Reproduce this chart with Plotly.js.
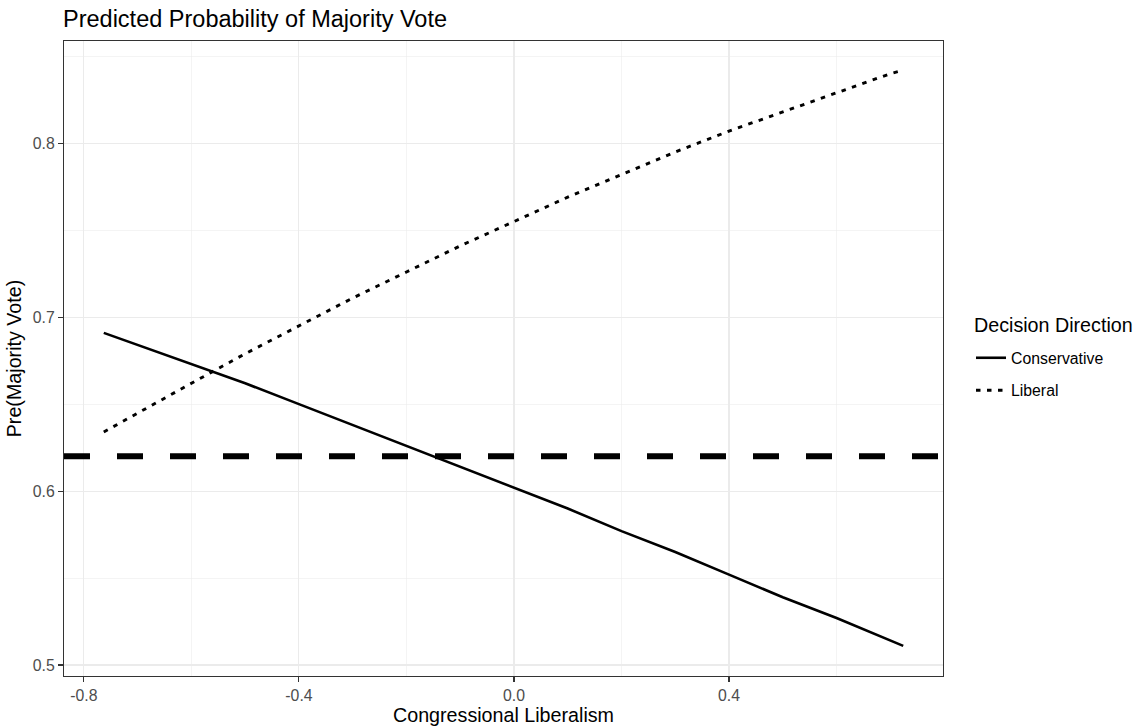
<!DOCTYPE html>
<html>
<head>
<meta charset="utf-8">
<script src="https://cdn.plot.ly/plotly-3.0.1.min.js"></script>
<style>html,body{margin:0;padding:0;background:#fff;}#chart{width:1140px;height:726px;}</style>
</head>
<body>
<div id="chart"></div>
<script>
// Congressional liberalism values (x)
const liberalism = [-0.763, -0.7, -0.6, -0.5, -0.4, -0.3, -0.2, -0.1, 0.0, 0.1, 0.2, 0.3, 0.4, 0.5, 0.6, 0.7, 0.724];
// Predicted probability, conservative decisions
const conservativeProb = [0.691, 0.684, 0.673, 0.662, 0.650, 0.638, 0.626, 0.614, 0.602, 0.590, 0.577, 0.565, 0.552, 0.539, 0.527, 0.514, 0.511];
// Predicted probability, liberal decisions
const liberalProb = [0.634, 0.645, 0.662, 0.679, 0.695, 0.711, 0.726, 0.741, 0.755, 0.769, 0.782, 0.795, 0.807, 0.818, 0.829, 0.840, 0.842];
// Reference (baseline) probability
const baseline = 0.62;
const seriesNames = ["Conservative", "Liberal"];
// Tick labels
const xTickVals = [-0.8, -0.4, 0.0, 0.4];
const xTickText = ["-0.8", "-0.4", "0.0", "0.4"];
const yTickVals = [0.5, 0.6, 0.7, 0.8];
const yTickText = ["0.5", "0.6", "0.7", "0.8"];

const FONT = "Liberation Sans, Arial, sans-serif";
const W = 1140, H = 726;

const traces = [
  {x: liberalism, y: conservativeProb, name: seriesNames[0], type: "scatter", mode: "lines",
   line: {color: "#000000", width: 2.6, dash: "solid"}, legendgroup: "a"},
  {x: liberalism, y: liberalProb, name: seriesNames[1], type: "scatter", mode: "lines",
   line: {color: "#000000", width: 2.9, dash: "4.5px,6.5px"}, legendgroup: "b"}
];

const layout = {
  width: W, height: H,
  margin: {l: 64, r: 197, t: 41, b: 50, pad: 0},
  paper_bgcolor: "#ffffff", plot_bgcolor: "#ffffff",
  font: {family: FONT, color: "#000000"},
  title: {text: "Predicted Probability of Majority Vote", x: 63 / W, xanchor: "left", xref: "container",
          y: 1 - 19 / H, yanchor: "middle", yref: "container",
          font: {size: 23.5, family: FONT, color: "#000000"}},
  xaxis: {
    range: [-0.837, 0.798], tickmode: "array", tickvals: xTickVals, ticktext: xTickText,
    showgrid: true, gridcolor: "#EBEBEB", gridwidth: 1.1,
    minor: {tick0: -0.8, dtick: 0.2, showgrid: true, gridcolor: "#EBEBEB", gridwidth: 0.55, ticks: ""},
    zeroline: false, showline: true, mirror: true, linecolor: "#333333", linewidth: 1.1,
    ticks: "outside", ticklen: 5, tickcolor: "#333333", tickwidth: 1.1,
    tickfont: {size: 15.8, color: "#4D4D4D", family: FONT},
    title: {text: "Congressional Liberalism", font: {size: 19.7, color: "#000000", family: FONT}, standoff: 3}
  },
  yaxis: {
    range: [0.4937, 0.8588], tickmode: "array", tickvals: yTickVals, ticktext: yTickText,
    showgrid: true, gridcolor: "#EBEBEB", gridwidth: 1.1,
    minor: {tick0: 0.5, dtick: 0.05, showgrid: true, gridcolor: "#EBEBEB", gridwidth: 0.55, ticks: ""},
    zeroline: false, showline: true, mirror: true, linecolor: "#333333", linewidth: 1.1,
    ticks: "outside", ticklen: 5, tickcolor: "#333333", tickwidth: 1.1,
    tickfont: {size: 15.8, color: "#4D4D4D", family: FONT},
    title: {text: "Pre(Majority Vote)", font: {size: 19.7, color: "#000000", family: FONT}, standoff: 5}
  },
  shapes: [
    {type: "line", xref: "paper", x0: 0, x1: 1, yref: "y", y0: baseline, y1: baseline,
     line: {color: "#000000", width: 6, dash: "26px,27px"}, layer: "above"}
  ],
  annotations: [
    {text: "Decision Direction", xref: "paper", yref: "paper",
     x: (972 - 64) / 879, y: (676 - 325) / 635, xanchor: "left", yanchor: "middle",
     showarrow: false, font: {size: 19.7, color: "#000000", family: FONT}}
  ],
  showlegend: true,
  legend: {
    x: (971 - 64) / 879, xanchor: "left", y: (676 - 341) / 635, yanchor: "top",
    bgcolor: "rgba(0,0,0,0)", borderwidth: 0,
    font: {size: 15.8, color: "#000000", family: FONT},
    tracegroupgap: 9, itemwidth: 30
  }
};

Plotly.newPlot("chart", traces, layout, {displayModeBar: false, staticPlot: true});
</script>
</body>
</html>
